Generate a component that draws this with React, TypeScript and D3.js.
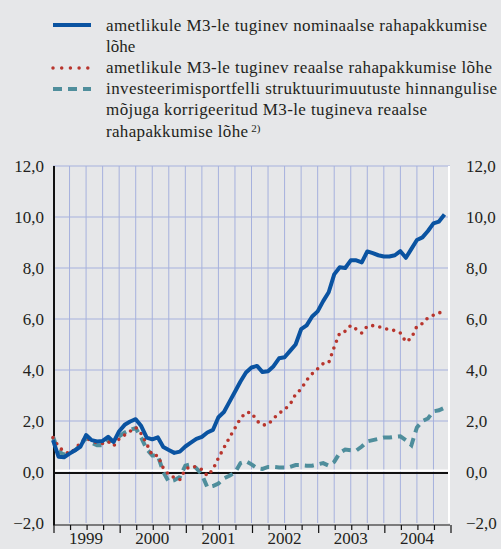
import React from "react";
import * as d3 from "d3";

const years = ["1999", "2000", "2001", "2002", "2003", "2004"];
const yTicks = [-2, 0, 2, 4, 6, 8, 10, 12];

// monthly values, Jan 1999 .. Dec 2004
const nominal = [
  1.25, 0.6, 0.58, 0.72, 0.85, 1.0, 1.45, 1.25, 1.2, 1.22, 1.38, 1.18,
  1.6, 1.85, 1.98, 2.07, 1.8, 1.35, 1.28, 1.36, 0.98, 0.86, 0.75, 0.8,
  1.0, 1.15, 1.3, 1.38, 1.55, 1.65, 2.15, 2.35, 2.75, 3.15, 3.55, 3.9,
  4.1, 4.16, 3.92, 3.95, 4.15, 4.46, 4.5, 4.75, 5.0, 5.6, 5.75, 6.1,
  6.3, 6.7, 7.05, 7.75, 8.03, 8.0, 8.3, 8.3, 8.22, 8.65, 8.58, 8.5,
  8.45, 8.45, 8.5, 8.66, 8.4, 8.75, 9.1, 9.2, 9.45, 9.75, 9.82, 10.1,
];
const real = [
  1.35, 1.0, 0.8, 0.72, 0.9, 1.15, 1.35, 1.2, 1.15, 1.12, 1.2, 1.02,
  1.3, 1.45, 1.6, 1.75, 1.5, 1.1, 0.65, 0.65, 0.15, -0.1, -0.22, -0.3,
  0.1, 0.22, 0.2, 0.1, -0.15, 0.1, 0.55, 0.95, 1.35, 1.72, 2.1, 2.34,
  2.33, 2.0, 1.84, 1.86, 2.1, 2.3, 2.45, 2.65, 3.05, 3.25, 3.6, 3.85,
  4.05, 4.25, 4.28, 4.9, 5.45, 5.52, 5.75, 5.6, 5.45, 5.72, 5.74, 5.7,
  5.65, 5.57, 5.55, 5.45, 5.1, 5.25, 5.72, 5.82, 6.05, 6.15, 6.22, 6.4,
];
const adjusted = [
  1.38, 0.8, 0.68, 0.75, 0.85, 1.05, 1.35, 1.15, 1.05, 1.05, 1.25, 1.2,
  1.4, 1.55, 1.65, 1.72, 1.35, 0.9, 0.65, 0.65, 0.0, -0.38, -0.32, -0.2,
  0.25, 0.3, 0.15, -0.1, -0.6, -0.55, -0.45, -0.25, -0.15, -0.02, 0.35, 0.42,
  0.3, 0.15, 0.12, 0.2, 0.2, 0.18, 0.18, 0.2, 0.27, 0.27, 0.25, 0.25,
  0.3, 0.35, 0.25, 0.4, 0.75, 0.88, 0.85, 0.84, 1.0, 1.2, 1.25, 1.3,
  1.35, 1.35, 1.38, 1.4, 1.25, 1.05, 1.75, 2.0, 2.1, 2.38, 2.42, 2.52,
];

const legendItems = [
  ["ametlikule M3-le tuginev nominaalse rahapakkumise", "lõhe"],
  ["ametlikule M3-le tuginev reaalse rahapakkumise lõhe"],
  [
    "investeerimisportfelli struktuurimuutuste hinnangulise",
    "mõjuga korrigeeritud M3-le tugineva reaalse",
    "rahapakkumise lõhe",
  ],
];
// rendered line widths in the reference (text layout only)
const legendWidths = [[381, 0], [386], [391, 321, 142]];

const W = 501;
const H = 549;
const left = 53;
const right = 450;
const top = 166;
const bottom = 523;
const BG = "#e6e7e9";
const GRID = "#a6b1dd";
const TEXT = "#231f20";
const BLUE = "#0a53a1";
const RED = "#b8352d";
const TEAL = "#4f8e9c";
const FONT = "Liberation Serif, DejaVu Serif, serif";

export default function App() {
  const x = d3.scaleLinear().domain([0, 72]).range([left, right]);
  const y = d3.scaleLinear().domain([-2, 12]).range([bottom, top]);
  const line = d3
    .line<number>()
    .x((_, i) => x(i))
    .y((d) => y(d));
  const quarters = d3.range(3, 72, 3);
  const tickQ = d3.range(0, 73, 3);
  const hGrid = yTicks.filter((v) => v > 0);

  const legendY = [31, 73, 94];
  return (
    <svg
      width={W}
      height={H}
      style={{ position: "absolute", left: 0, top: 0, background: BG }}
      fontFamily={FONT}
    >
      <rect width={W} height={H} fill={BG} />
      {/* legend */}
      <g>
        <line x1={53} x2={91} y1={25} y2={25} stroke={BLUE} strokeWidth={4} />
        <line
          x1={53}
          x2={91}
          y1={68}
          y2={68}
          stroke={RED}
          strokeWidth={3.5}
          strokeLinecap="round"
          strokeDasharray="0 8.7"
        />
        <line
          x1={53}
          x2={91}
          y1={89}
          y2={89}
          stroke={TEAL}
          strokeWidth={4}
          strokeDasharray="9 6"
        />
        {legendItems.map((lines, k) =>
          lines.map((t, j) => {
            const wl = legendWidths[k][j];
            return (
              <text
                key={k + "-" + j}
                x={106}
                y={legendY[k] + j * 21.3}
                fontSize={17}
                fill={TEXT}
                fontFamily={FONT}
              >
                <tspan {...(wl ? { textLength: wl, lengthAdjust: "spacing" } : {})}>{t}</tspan>
                {k === 2 && j === lines.length - 1 ? (
                  <tspan fontSize={11} dy={-5} dx={3}>
                    2)
                  </tspan>
                ) : null}
              </text>
            );
          })
        )}
      </g>
      {/* grid */}
      {quarters.map((q) => (
        <line
          key={"v" + q}
          x1={x(q)}
          x2={x(q)}
          y1={top}
          y2={bottom}
          stroke={GRID}
          strokeWidth={1}
        />
      ))}
      {hGrid.map((v) => (
        <line
          key={"h" + v}
          x1={left}
          x2={right}
          y1={y(v)}
          y2={y(v)}
          stroke={GRID}
          strokeWidth={1}
        />
      ))}
      {/* zero line */}
      <line x1={left} x2={right} y1={y(0) - 1.5} y2={y(0) - 1.5} stroke="#fff" strokeWidth={2} />
      <line x1={left} x2={right} y1={y(0) + 1} y2={y(0) + 1} stroke="#111" strokeWidth={2} />
      {/* axes */}
      <line x1={left + 1} x2={left + 1} y1={top} y2={bottom + 2} stroke="#111" strokeWidth={2} />
      <line x1={right - 1} x2={right - 1} y1={top} y2={bottom} stroke="#fff" strokeWidth={2} />
      <line x1={left} x2={right} y1={bottom + 2} y2={bottom + 2} stroke="#111" strokeWidth={1.2} />
      {tickQ.map((q) => (
        <line
          key={"t" + q}
          x1={x(q) + 1}
          x2={x(q) + 1}
          y1={bottom + 2}
          y2={bottom + (q % 12 === 0 ? 10 : 7)}
          stroke="#111"
          strokeWidth={1.2}
        />
      ))}
      {/* series */}
      <path d={line(adjusted) || ""} fill="none" stroke={TEAL} strokeWidth={4} strokeDasharray="9 6" />
      <path
        d={line(real) || ""}
        fill="none"
        stroke={RED}
        strokeWidth={3.6}
        strokeLinecap="round"
        strokeDasharray="0 7.2"
      />
      <path d={line(nominal) || ""} fill="none" stroke={BLUE} strokeWidth={4} strokeLinejoin="round" />
      {/* y labels */}
      {yTicks.map((v) => {
        const s = d3.format(".1f")(v).replace(".", ",");
        return (
          <g key={"y" + v}>
            <text x={44} y={y(v) + 6} textAnchor="end" fontSize={17} fill={TEXT} fontFamily={FONT}>
              {s}
            </text>
            <text x={466} y={y(v) + 6} fontSize={17} fill={TEXT} fontFamily={FONT}>
              {s}
            </text>
          </g>
        );
      })}
      {/* x labels */}
      {years.map((yr, i) => (
        <text
          key={yr}
          x={x(i * 12 + 6)}
          y={544}
          textAnchor="middle"
          fontSize={17}
          fill={TEXT}
          fontFamily={FONT}
        >
          {yr}
        </text>
      ))}
    </svg>
  );
}
